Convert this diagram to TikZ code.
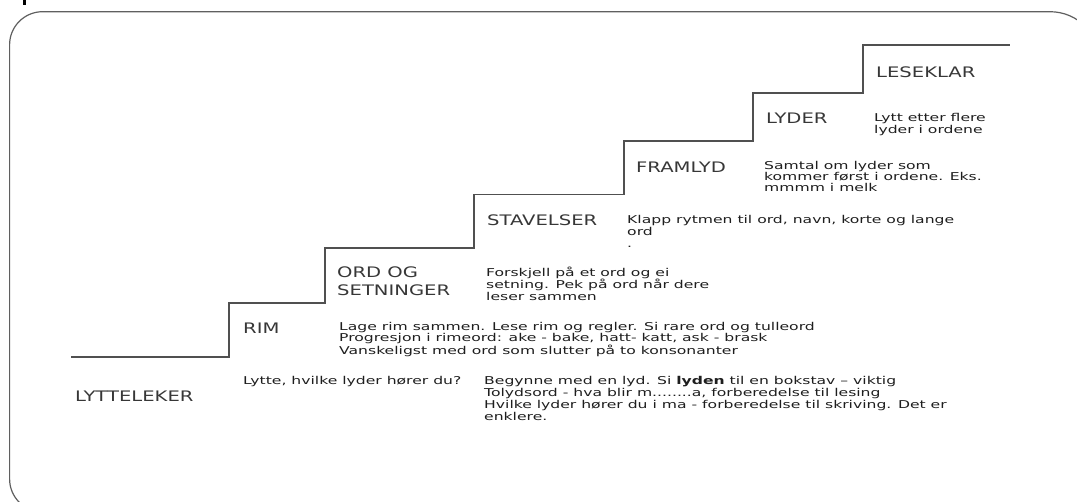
\documentclass[tikz,border=0pt]{standalone}
\usepackage{fontspec}
\setmainfont{DejaVu Sans}
\newfontfamily\descfont[FakeStretch=1.445]{DejaVu Sans}
\newfontfamily\headfont[FakeStretch=1.35]{DejaVu Sans}
\definecolor{stairc}{RGB}{80,80,80}
\definecolor{headc}{RGB}{55,55,55}
\definecolor{descc}{RGB}{30,30,30}
\definecolor{framec}{RGB}{95,95,95}
\begin{document}
\begin{tikzpicture}[x=1pt,y=-1pt,
  heading/.style={font=\headfont\fontsize{14.5}{17.7}\selectfont, text=headc, anchor=base west, inner sep=0pt, align=left},
  desc/.style={font=\descfont\fontsize{10.8}{12}\selectfont, text=descc, anchor=base west, inner sep=0pt, align=left},
  stair/.style={draw=stairc, line width=1.5pt},
  frameline/.style={draw=framec, line width=1.2pt}]
\useasboundingbox (0,0) rectangle (1077,501);
\clip (0,0) rectangle (1077,501);
% frame
\draw[frameline] (42.6,512) .. controls (24.4,512) and (9.6,497.2) .. (9.6,479)
  -- (9.6,44.7) .. controls (9.6,26.5) and (24.4,11.7) .. (42.6,11.7)
  -- (1050,11.7) .. controls (1077.6,11.7) and (1100,34.1) .. (1100,61.7)
  -- (1100,512) -- cycle;
\fill[black] (22.7,0) rectangle (26,5);
% staircase
\coordinate (s0) at (71,357);
\coordinate (s1) at (229,357);
\coordinate (s2) at (229,303);
\coordinate (s3) at (325,303);
\coordinate (s4) at (325,248);
\coordinate (s5) at (474,248);
\coordinate (s6) at (474,194.5);
\coordinate (s7) at (624,194.5);
\coordinate (s8) at (624,141);
\coordinate (s9) at (753,141);
\coordinate (s10) at (753,93);
\coordinate (s11) at (863,93);
\coordinate (s12) at (863,45);
\coordinate (s13) at (1010,45);
\draw[stair] (s0) -- (s1) -- (s2) -- (s3) -- (s4) -- (s5) -- (s6) -- (s7) -- (s8) -- (s9) -- (s10) -- (s11) -- (s12) -- (s13);
% headings (base anchor = baseline of last line)
\node[heading] (leseklar) at (876,77) {LESEKLAR};
\node[heading] (lyder) at (766,123.6) {LYDER};
\node[heading] (framlyd) at (636,172) {FRAMLYD};
\node[heading] (stavelser) at (487,225.3) {STAVELSER};
\node[heading] (ordog) at (337,295.3) {ORD OG\\SETNINGER};
\node[heading] (rim) at (243,333.6) {RIM};
\node[heading] (lytteleker) at (75,401.3) {LYTTELEKER};
% descriptions (base anchor = baseline of last line)
\node[desc] (dlyder) at (874,133.5) {Lytt etter flere\\lyder i ordene};
\node[desc, font=\descfont\fontsize{10.8}{11.2}\selectfont] (dframlyd) at (764,191.9) {Samtal om lyder som\\kommer først i ordene. Eks.\\mmmm i melk};
\node[desc] (dstav) at (627,247.5) {Klapp rytmen til ord, navn, korte og lange\\ord\\.};
\node[desc] (dord) at (486,300.5) {Forskjell på et ord og ei\\setning. Pek på ord når dere\\leser sammen};
\node[desc, font=\descfont\fontsize{10.8}{11.5}\selectfont] (drim) at (339,354.5) {Lage rim sammen. Lese rim og regler. Si rare ord og tulleord\\Progresjon i rimeord: ake - bake, hatt- katt, ask - brask\\Vanskeligst med ord som slutter på to konsonanter};
\node[desc] (dlytte) at (243,384.5) {Lytte, hvilke lyder hører du?};
\node[desc] (dbeg) at (484,420.5) {Begynne med en lyd. Si \textbf{lyden} til en bokstav – viktig\\Tolydsord - hva blir m........a, forberedelse til lesing\\Hvilke lyder hører du i ma - forberedelse til skriving. Det er\\enklere.};
\end{tikzpicture}
\end{document}
